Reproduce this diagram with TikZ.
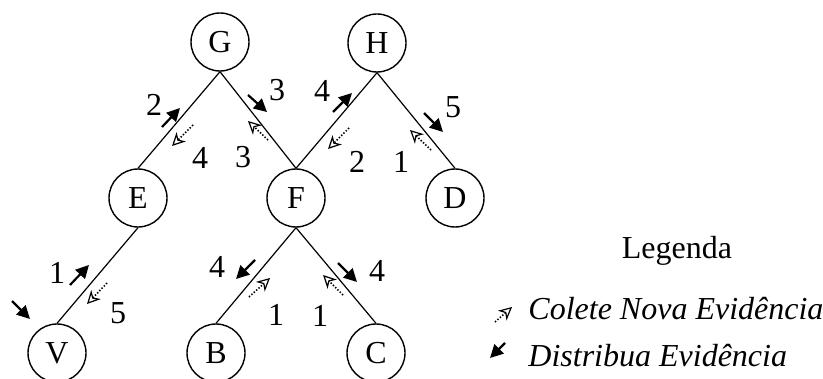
\documentclass[tikz,border=0pt]{standalone}
\usepackage{fontspec}
\setmainfont{Liberation Serif}
\usetikzlibrary{arrows.meta}

\begin{document}
\begin{tikzpicture}[x=0.5pt, y=-0.5pt,
  every node/.style={font=\fontsize{16}{19}\selectfont},
  var/.style={draw, circle, line width=0.7pt, minimum size=29pt, inner sep=0pt},
  elo/.style={line width=0.6pt},
  dist/.style={line width=1.1pt, -{Triangle[length=6.5pt, width=6.5pt]}},
  coleta/.style={line width=0.8pt, dash pattern=on 0.7pt off 0.9pt,
    -{Stealth[open, length=6.5pt, width=6.5pt, inset=2pt, line width=0.6pt]}}]
  \useasboundingbox (0,0) rectangle (823,379);

  % variaveis
  \node[var] (G) at (220,42) {G};
  \node[var] (H) at (377,43) {H};
  \node[var] (E) at (138,198) {E};
  \node[var] (F) at (296,198) {F};
  \node[var] (D) at (455,198) {D};
  \node[var] (V) at (57,353) {V};
  \node[var] (B) at (216,353) {B};
  \node[var] (C) at (376,353) {C};

  \draw[elo] (G.south) -- (E.north);
  \draw[elo] (G.south) -- (F.north);
  \draw[elo] (H.south) -- (F.north);
  \draw[elo] (H.south) -- (D.north);
  \draw[elo] (E.south) -- (V.north);
  \draw[elo] (F.south) -- (B.north);
  \draw[elo] (F.south) -- (C.north);

  % distribua evidencia
  \draw[dist] (162,127) -- (180,108);
  \draw[dist] (248,95) -- (267,112);
  \draw[dist] (333,112) -- (352,93);
  \draw[dist] (424,113) -- (443,132);
  \draw[dist] (70,285) -- (89,265);
  \draw[dist] (255,260) -- (236,279);
  \draw[dist] (338,263) -- (357,282);
  \draw[dist] (12,301) -- (30,319);

  % colete nova evidencia
  \draw[coleta] (193,125) -- (172,146);
  \draw[coleta] (268,140) -- (248,121);
  \draw[coleta] (349,128) -- (328,149);
  \draw[coleta] (431,150) -- (410,130);
  \draw[coleta] (107,283) -- (87,304);
  \draw[coleta] (249,297) -- (270,278);
  \draw[coleta] (343,295) -- (323,275);

  % ordem das mensagens
  \node (nGE1) at (154,105) {2};
  \node (nGE2) at (200,158) {4};
  \node (nGF1) at (277,90) {3};
  \node (nGF2) at (243,157) {3};
  \node (nHF1) at (322,91) {4};
  \node (nHF2) at (357,162) {2};
  \node (nHD1) at (453,107) {5};
  \node (nHD2) at (401,162) {1};
  \node (nEV1) at (57,273) {1};
  \node (nEV2) at (118,313) {5};
  \node (nFB1) at (217,267) {4};
  \node (nFB2) at (276,315) {1};
  \node (nFC1) at (377,271) {4};
  \node (nFC2) at (320,316) {1};

  % legenda
  \node[anchor=base] (legenda) at (677,258) {Legenda};
  \draw[coleta] (495,322) -- (512,307);
  \node[anchor=base west, inner sep=0pt] (colete) at (528,319) {\itshape Colete Nova Evidência};
  \draw[dist] (505,343) -- (490,358);
  \node[anchor=base west, inner sep=0pt] (distribua) at (528,366) {\itshape Distribua Evidência};
\end{tikzpicture}
\end{document}
